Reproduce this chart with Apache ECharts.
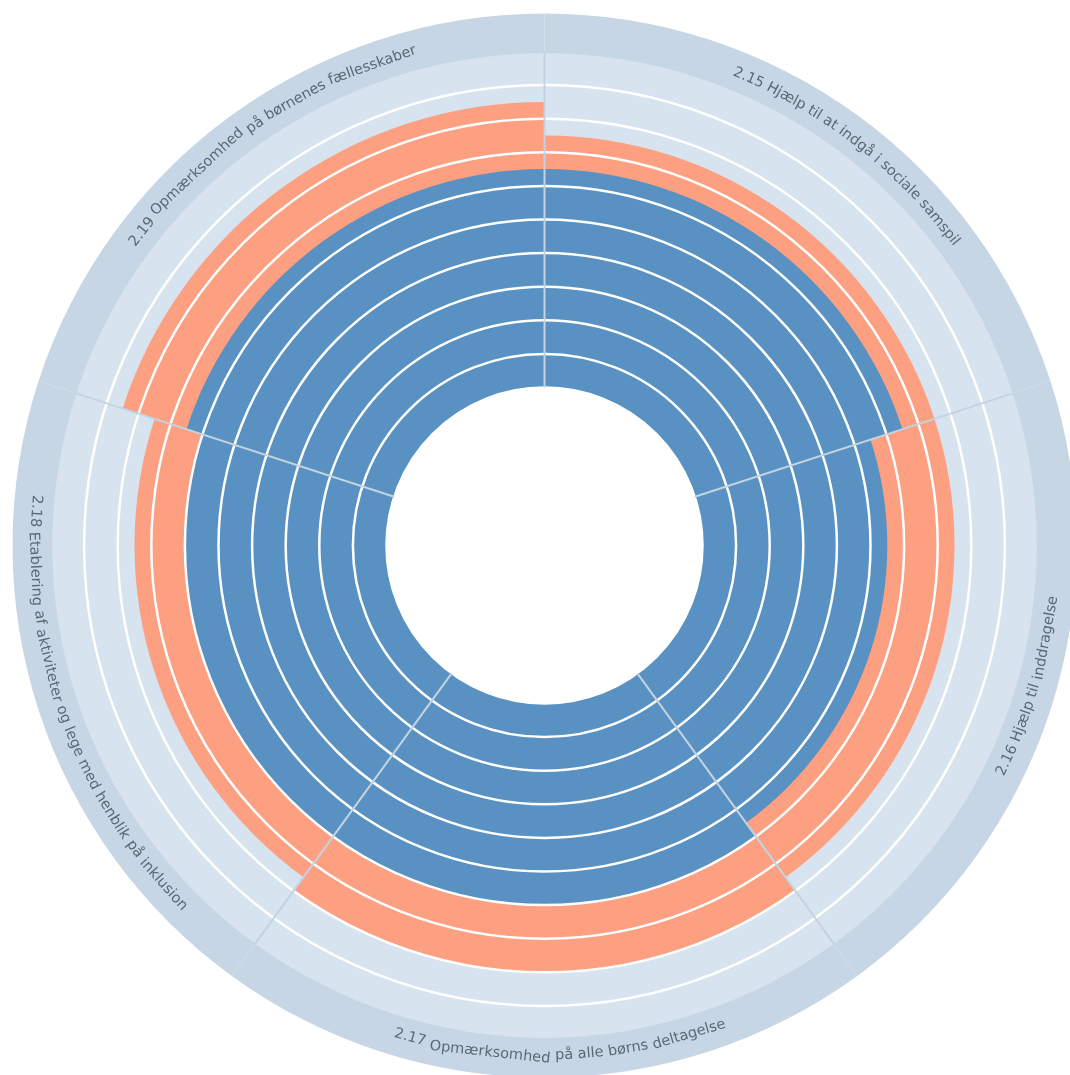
<!DOCTYPE html>
<html>
<head>
<meta charset="utf-8">
<title>Polar chart</title>
<script src="https://cdn.jsdelivr.net/npm/echarts/dist/echarts.min.js"></script>
<style>
  html, body { margin: 0; padding: 0; background: #ffffff; }
  #chart { width: 1070px; height: 1075px; }
</style>
</head>
<body>
<div id="chart"></div>
<script>
// ---------------- data ----------------
const categories = [
  '2.15 Hjælp til at indgå i sociale samspil',
  '2.16 Hjælp til inddragelse',
  '2.17 Opmærksomhed på alle børns deltagelse',
  '2.18 Etablering af aktiviteter og lege med henblik på inklusion',
  '2.19 Opmærksomhed på børnenes fællesskaber'
];
const blueValues   = [65, 55, 60, 60, 65];
const orangeValues = [75, 75, 80, 75, 85];
const scaleValues  = [100, 100, 100, 100, 100];
const bandValues   = [1, 1, 1, 1, 1];

// ---------------- layout ----------------
const CX = 544.5, CY = 545.5;
const R_IN = 158, R_MID = 494, R_OUT = 532;
const LABEL_R = 510;
const LABEL_FONT_SIZE = 14.5;
const LABEL_FONT_FAMILY = '"DejaVu Sans", Verdana, sans-serif';
const LABEL_SHIFT_DEG = 1.8;

const chart = echarts.init(document.getElementById('chart'), null, { renderer: 'canvas' });

const hiddenAxis = {
  axisLine: { show: false },
  axisTick: { show: false },
  axisLabel: { show: false }
};

function buildLabels() {
  const cv = document.createElement('canvas');
  const ctx = cv.getContext('2d');
  const font = LABEL_FONT_SIZE + 'px ' + LABEL_FONT_FAMILY;
  ctx.font = font;
  const spaceW = ctx.measureText(' ').width;
  const els = [];
  const n = categories.length;
  const step = 360 / n;
  categories.forEach((txt, i) => {
    const mid = step * i + step / 2;             // degrees clockwise from top
    const ccw = mid > 90 && mid < 270;            // bottom half reads counter-clockwise
    const words = txt.split(' ');
    const widths = words.map(w => ctx.measureText(w).width);
    const total = widths.reduce((a, b) => a + b, 0) + spaceW * (words.length - 1);
    const totalDeg = total / LABEL_R * 180 / Math.PI;
    const dir = ccw ? -1 : 1;
    const centerDeg = mid + dir * LABEL_SHIFT_DEG;
    let pos = 0;
    words.forEach((w, k) => {
      const wc = pos + widths[k] / 2;
      const phi = centerDeg + dir * (wc / LABEL_R * 180 / Math.PI - totalDeg / 2);
      const rad = phi * Math.PI / 180;
      const x = CX + LABEL_R * Math.sin(rad);
      const y = CY - LABEL_R * Math.cos(rad);
      const rotDeg = ccw ? -(phi - 180) : -phi;
      els.push({
        type: 'text',
        x: x, y: y,
        rotation: rotDeg * Math.PI / 180,
        z: 20,
        silent: true,
        style: {
          text: w,
          x: 0, y: 0,
          font: font,
          fill: '#5b6876',
          align: 'center',
          verticalAlign: 'middle',
          textAlign: 'center',
          textVerticalAlign: 'middle'
        }
      });
      pos += widths[k] + spaceW;
    });
  });
  return els;
}

const option = {
  animation: false,
  backgroundColor: '#ffffff',
  polar: [
    { center: [CX, CY], radius: [R_IN, R_MID] },
    { center: [CX, CY], radius: [R_MID - 1.8, R_OUT] }
  ],
  angleAxis: [
    Object.assign({
      polarIndex: 0, type: 'category', data: categories,
      startAngle: 90, clockwise: true, boundaryGap: true, z: 6,
      splitLine: { show: true, lineStyle: { color: '#c3d3e2', width: 2 } }
    }, hiddenAxis),
    Object.assign({
      polarIndex: 1, type: 'category', data: categories,
      startAngle: 90, clockwise: true, boundaryGap: true,
      splitLine: { show: false }
    }, hiddenAxis)
  ],
  radiusAxis: [
    Object.assign({
      polarIndex: 0, type: 'value', min: 0, max: 100, interval: 10, z: 5,
      splitLine: { show: true, showMinLine: true, showMaxLine: false,
                   lineStyle: { color: '#ffffff', width: 2.5 } }
    }, hiddenAxis),
    Object.assign({
      polarIndex: 1, type: 'value', min: 0, max: 1,
      splitLine: { show: false }
    }, hiddenAxis)
  ],
  series: [
    {
      name: 'scale', type: 'bar', coordinateSystem: 'polar', polarIndex: 0,
      data: scaleValues, barGap: '-100%', barCategoryGap: '0%', z: 1, silent: true,
      itemStyle: { color: '#d7e4ef' }
    },
    {
      name: 'orange', type: 'bar', coordinateSystem: 'polar', polarIndex: 0,
      data: orangeValues, barGap: '-100%', barCategoryGap: '0%', z: 2, silent: true,
      itemStyle: { color: '#fd9f81' }
    },
    {
      name: 'blue', type: 'bar', coordinateSystem: 'polar', polarIndex: 0,
      data: blueValues, barGap: '-100%', barCategoryGap: '0%', z: 3, silent: true,
      itemStyle: { color: '#5891c2' }
    },
    {
      name: 'band', type: 'bar', coordinateSystem: 'polar', polarIndex: 1,
      data: bandValues, barCategoryGap: '0%', z: 8, silent: true,
      itemStyle: { color: '#c6d6e4' }
    }
  ],
  graphic: { elements: buildLabels() }
};

chart.setOption(option);
</script>
</body>
</html>
